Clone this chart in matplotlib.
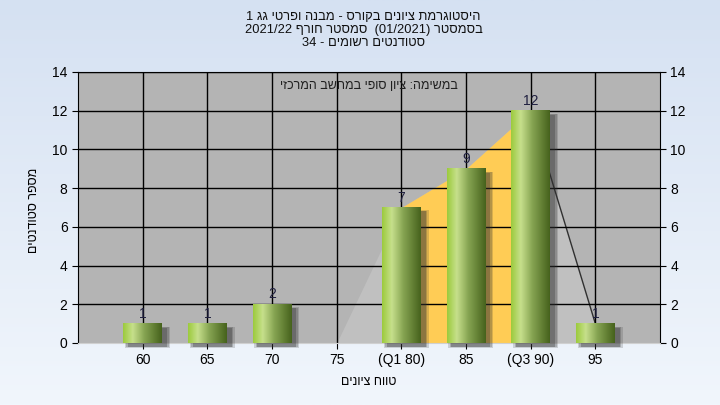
import re
import numpy as np
import matplotlib
matplotlib.use("Agg")
import matplotlib.pyplot as plt
from matplotlib.colors import LinearSegmentedColormap
from matplotlib.patches import Rectangle

plt.rcParams["font.family"] = ["Liberation Sans", "DejaVu Sans"]

# data
categories = ["60", "65", "70", "75", "(Q1 80)", "85", "(Q3 90)", "95"]
counts = [1, 1, 2, 0, 7, 9, 12, 1]
area_start = 3   # index of 75 - grey polygon starts here
q1_idx = 4
q3_idx = 6

title_lines = [
    "היסטוגרמת ציונים בקורס - מבנה ופרטי גג 1",
    "בסמסטר (01/2021)  סמסטר חורף 2021/22",
    "סטודנטים רשומים - 34",
]
inner_text = "במשימה: ציון סופי במחשב המרכזי"
x_label = "טווח ציונים"
y_label = "מספר סטודנטים"


def rtl(s):
    # crude visual reordering for right-to-left text
    r = s[::-1]
    r = re.sub(r"[0-9A-Za-z/.]+", lambda m: m.group(0)[::-1], r)
    return r.translate(str.maketrans("()", ")("))


fig = plt.figure(figsize=(7.2, 4.05), dpi=100)

# background gradient
bg = fig.add_axes([0, 0, 1, 1], zorder=-10)
bg_cmap = LinearSegmentedColormap.from_list("bg", ["#d5e1f2", "#f1f6fc"])
bg.imshow(np.linspace(0, 1, 256).reshape(-1, 1), aspect="auto", cmap=bg_cmap,
          extent=[0, 1, 0, 1])
bg.axis("off")

ax = fig.add_axes([78 / 720, 1 - 343 / 405, 582 / 720, 271 / 405])
ax.set_facecolor("#b4b4b4")
ax.set_xlim(0, 9)
ax.set_ylim(0, 14)

x = np.arange(1, len(categories) + 1)

# frequency polygon areas
xa = x[area_start:]
ya = counts[area_start:]
ax.fill_between(xa, 0, ya, color="#c0c0c0", zorder=1, linewidth=0)
ax.fill_between(x[q1_idx:q3_idx + 1], 0, counts[q1_idx:q3_idx + 1],
                color="#ffcc55", zorder=1.5, linewidth=0)
ax.plot(x[q3_idx:q3_idx + 2], counts[q3_idx:q3_idx + 2], color="#303030",
        lw=1, zorder=1.6)

# grid
for gy in range(2, 15, 2):
    ax.axhline(gy, color="black", lw=1, zorder=2)
for gx in x:
    ax.axvline(gx, color="black", lw=1, zorder=2)

# bars
bar_w = 0.6
bar_cmap = LinearSegmentedColormap.from_list(
    "bar", [(0, "#9ccb3c"), (0.25, "#c6df8c"), (0.55, "#86a452"), (1, "#46621c")])
grad = np.linspace(0, 1, 128).reshape(1, -1)
dx, dy = 0.075, 0.2
for xi, c in zip(x, counts):
    if c == 0:
        continue
    for k, a in enumerate([0.18, 0.22, 0.3]):
        s = 0.025 * (2 - k)
        ax.add_patch(Rectangle((xi - bar_w / 2 + dx - s, -dy - s), bar_w + 2 * s, c + 2 * s,
                               color="#303030", alpha=a, lw=0, zorder=3, clip_on=False))
    ax.imshow(grad, aspect="auto", cmap=bar_cmap, zorder=4,
              extent=[xi - bar_w / 2, xi + bar_w / 2, 0, c])
    ax.text(xi, c + 0.15, str(c), ha="center", va="bottom", fontsize=10,
            color="#202040", zorder=5)

ax.set_xlim(0, 9)
ax.set_ylim(0, 14)

ax.set_xticks(x)
ax.set_xticklabels(categories, fontsize=10)
ax.set_yticks(range(0, 15, 2))
ax.tick_params(axis="y", labelsize=10, right=True, labelright=True, length=4)
ax.tick_params(axis="x", length=4)
for side in ["left", "right", "top"]:
    ax.spines[side].set_color("black")
ax.spines["bottom"].set_color("#d0d0d0")

ax.text(0.5, 0.948, rtl(inner_text), transform=ax.transAxes, ha="center",
        va="center", fontsize=9, color="#202020", zorder=6)

ax.set_xlabel(rtl(x_label), fontsize=9, labelpad=6)
ax.set_ylabel(rtl(y_label), fontsize=9)
ax.yaxis.set_label_coords(-0.065, 0.49)

for i, line in enumerate(title_lines):
    fig.text(0.505, 1 - (17 + 13 * i) / 405, rtl(line), ha="center", va="center",
             fontsize=9.3, color="#101010")

fig.savefig("out.png", dpi=100)
plt.close(fig)
